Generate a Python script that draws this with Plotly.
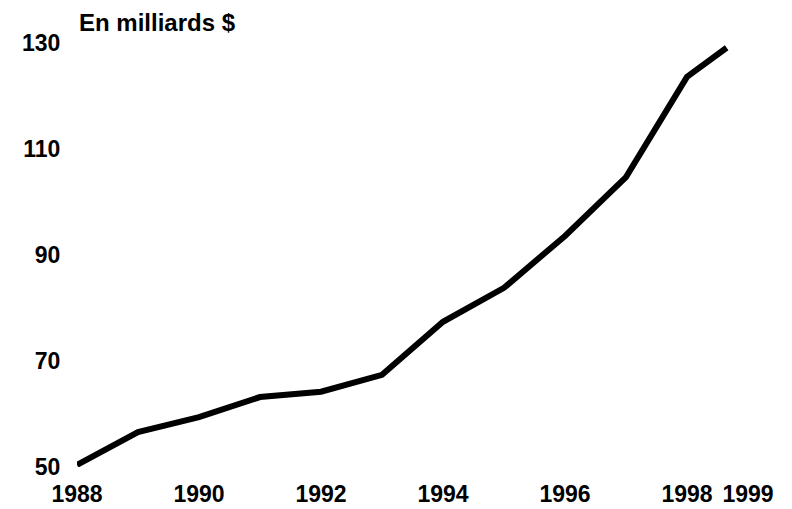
import plotly.graph_objects as go

years = [1988, 1989, 1990, 1991, 1992, 1993, 1994, 1995, 1996, 1997, 1998, 1998.65]
values = [50.4, 56.6, 59.4, 63.2, 64.2, 67.4, 77.4, 83.8, 93.6, 104.7, 123.6, 129.1]

x_tickvals = [1988, 1990, 1992, 1994, 1996, 1998, 1999]
x_ticktext = ["1988", "1990", "1992", "1994", "1996", "1998", "1999"]
y_tickvals = [50, 70, 90, 110, 130]
title_text = "En milliards $"

fig = go.Figure()
fig.add_trace(go.Scatter(
    x=years, y=values, mode="lines",
    line=dict(color="black", width=6),
    hoverinfo="skip", showlegend=False,
))

font_main = dict(family="Liberation Sans, Arial, sans-serif", size=23, color="black", weight="bold")

# page body has an 8px default margin; figure sized to fit the 792x509 window
fig.update_layout(
    width=784, height=501,
    margin=dict(l=69, r=44, t=35, b=42),
    paper_bgcolor="white", plot_bgcolor="white",
    xaxis=dict(
        range=[1988, 1999], tickvals=x_tickvals, ticktext=x_ticktext,
        showgrid=False, zeroline=False, showline=False, automargin=False,
        ticks="outside", ticklen=6, tickcolor="rgba(0,0,0,0)",
        tickfont=font_main,
    ),
    yaxis=dict(
        range=[50, 130], tickvals=y_tickvals,
        showgrid=False, zeroline=False, showline=False, automargin=False,
        ticks="outside", ticklen=11, tickcolor="rgba(0,0,0,0)",
        tickfont=font_main,
    ),
    annotations=[dict(
        text="<b>" + title_text + "</b>", xref="paper", yref="paper",
        x=0, y=1, xanchor="left", yanchor="bottom", yshift=5, showarrow=False,
        font=dict(family="Liberation Sans, Arial, sans-serif", size=24, color="black"),
    )],
)

fig.write_html("out.html")
